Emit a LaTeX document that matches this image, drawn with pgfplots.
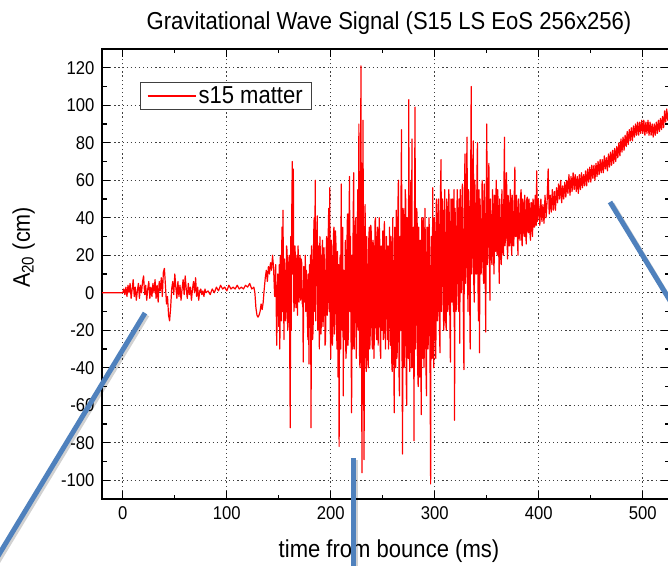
\documentclass[border=0pt]{standalone}
\usepackage{fontspec}
\setmainfont{Liberation Sans}[FakeStretch=0.9]
\usepackage{pgfplots}
\pgfplotsset{compat=1.18}
\definecolor{callout}{RGB}{79,129,189}
\begin{document}
\begin{tikzpicture}
\useasboundingbox (0,0) rectangle (668pt,565pt);
\clip (0,0) rectangle (668pt,565pt);
\begin{axis}[
  at={(102pt,66pt)}, anchor=south west,
  width=567pt, height=450pt, scale only axis,
  xmin=-20, xmax=525.2, ymin=-110, ymax=130,
  xtick={0,100,...,500}, ytick={-100,-80,...,120},
  minor x tick num=1, minor y tick num=1,
  tick pos=both, tick align=inside,
  major tick length=8pt, minor tick length=4.5pt,
  every tick/.style={black, line width=1.1pt},
  axis line style={black, line width=1.8pt},
  grid=major,
  major grid style={black!75, line width=0.9pt, dash pattern=on 1.2pt off 2.9pt},
  /pgf/number format/assume math mode=true,
  ticklabel style={font=\fontsize{18.5}{20}\selectfont},
  xticklabel style={yshift=-4pt},
  yticklabel style={xshift=-4pt},
  title={Gravitational Wave Signal (S15 LS EoS 256x256)},
  title style={font=\fontsize{24.5}{26}\selectfont, at={(rel axis cs:0.5,1)}, anchor=base, yshift=13pt, xshift=3.5pt},
  xlabel={time from bounce (ms)},
  xlabel style={font=\fontsize{24.5}{26}\selectfont, at={(rel axis cs:0.5,0)}, anchor=base, yshift=-58pt, xshift=3.5pt},
  ylabel={A\textsubscript{20} (cm)},
  ylabel style={font=\fontsize{24}{26}\selectfont, at={(rel axis cs:0,0.559)}, anchor=base, yshift=72pt},
  legend style={font=\fontsize{24.5}{26}\selectfont, draw=black!75, line width=0.9pt,
    at={(rel axis cs:0.067,0.927)}, anchor=north west, inner xsep=6.5pt, inner ysep=2.5pt,
    /tikz/every even column/.append style={column sep=4pt}},
  legend cell align=left,
  legend image code/.code={\draw[#1, line width=1.6pt] (0pt,0pt) -- (48pt,0pt);},
]
\addplot[red, line width=1.2pt, line join=round] coordinates {
(-20,0) (0,0) (1,2) (2,-1) (3,3) (4,-2) (5,4) (6,0) (7,5) (8,-3) (9,2) (10,7) (11,-2) (12,3) (13,-4) (14,1) (15,5) (16,-3) (17,4) (18,0) (19,6) (20,9)
(21,-1) (22,4) (23,-4) (24,2) (25,6) (26,-3) (27,3) (28,-2) (29,5) (30,0) (31,7) (32,-3) (33,4) (34,-5) (35,6) (36,1) (37,8) (38,-2) (39,11) (40,13)
(41,4) (42,-6) (43,-2) (44,-12) (45,-15) (46,-8) (47,2) (48,6) (49,-1) (50,10) (51,3) (52,-3) (53,6) (54,-2) (55,4) (56,-4) (57,2) (58,7) (59,-1) (60,9)
(61,2) (62,-3) (63,5) (64,-1) (65,3) (66,-4) (67,2) (68,6) (69,0) (70,8) (71,-2) (72,3) (73,-4) (74,1) (75,2) (76,-1) (77,1) (78,-2) (79,2) (80,0)
(82,1) (84,-1) (86,2) (88,0) (90,3) (92,1) (94,4) (96,2) (98,3) (100,1) (102,4) (104,2) (106,3) (108,2) (110,4) (112,2) (114,3) (116,2) (118,4) (120,3)
(122,5) (124,2) (126,3) (127,0) (128,-8) (129,-12) (130,-13) (131,-12) (132,-10) (133,-6) (134,-9) (135,-5) (136,2) (137,8) (138,12) (139,6) (140,14)
(141,10) (142,16) (143,12) (144,20) (145,13) (146,-2) (147,15) (148,-28) (149,10)
(150,-18) (150.5,15) (151,-30) (151.5,20) (152,5) (152.5,-15) (153,35) (153.5,-10) (154,44) (154.5,5) (155,-25) (155.5,18) (156,10) (156.5,-15)
(157,-8) (157.5,25) (158,22) (158.5,-20) (159,-12) (159.5,15) (160,20) (160.5,-30) (161,-72) (161.5,30) (162,-20) (162.5,45) (163,70) (163.5,10)
(164,66) (164.5,-10) (165,-6) (165.5,25) (166,18) (166.5,-8) (167,5) (167.5,20) (168,-12) (168.5,25) (169,16) (169.5,-5) (170,11) (170.5,20)
(171,-4) (171.5,18) (172,16) (172.5,-6) (173,2) (173.5,-37) (174,14) (174.5,-5) (175,5) (175.5,20) (176,-10) (176.5,12) (177,8) (177.5,-15)
(178,-25) (178.5,10) (179,-38) (179.5,15) (180,-10) (180.5,20) (181,-72) (181.5,25) (182,14) (182.5,-25) (183,-20) (183.5,30) (184,40) (184.5,-10)
(185,60) (185.5,-15) (186,10) (186.5,32) (187,41) (187.5,-20) (188,-3) (188.5,25) (189,-30) (189.5,30) (190,20) (190.5,-22) (191,-15) (191.5,18)
(192,28) (192.5,-18) (193,-10) (193.5,24) (194,7) (194.5,-28) (195,-25) (195.5,20) (196,30) (196.5,-12) (197,-5) (197.5,30) (198,45) (198.5,-10)
(199,56) (199.5,-20) (200,-35) (200.5,28) (201,15) (201.5,-28) (202,-20) (202.5,30) (203,35) (203.5,-22) (204,-10) (204.5,33) (205,25) (205.5,-18)
(206,-30) (206.5,22) (207,-45) (207.5,15) (208,-82) (208.5,10) (209,20) (209.5,-30) (210,58) (210.5,-5) (211,-20) (211.5,35) (212,-55) (212.5,12)
(213,10) (213.5,-25) (214,28) (214.5,-35) (215,-30) (215.5,25) (216,42) (216.5,-28) (217,-20) (217.5,38) (218,62) (218.5,-10) (219,30) (219.5,-25)
(220,-64) (220.5,20) (221,-30) (221.5,40) (222,64) (222.5,-30) (223,-14) (223.5,35) (224,40) (224.5,-35) (225,-14) (225.5,30) (226,55) (226.5,-20)
(227,90) (227.5,-30) (228,-40) (228.5,40) (229,121) (229.5,-20) (230,-96) (230.5,30) (231,92) (231.5,-30) (232,-89) (232.5,25) (233,47) (233.5,-30)
(234,-42) (234.5,30) (235,14) (235.5,-35) (236,-40) (236.5,28) (237,35) (237.5,-30) (238,-20) (238.5,36) (239,31) (239.5,-22) (240,-30) (240.5,28)
(241,25) (241.5,-35) (242,-16) (242.5,38) (243,40) (243.5,-18) (244,-25) (244.5,30) (245,35) (245.5,-28) (246,-10) (246.5,40) (247,28) (247.5,-30)
(248,-35) (248.5,25) (249,20) (249.5,-20) (250,33) (250.5,-25) (251,-20) (251.5,38) (252,24) (252.5,-30) (253,-10) (253.5,30) (254,18) (254.5,-25)
(255,25) (255.5,-30) (256,-15) (256.5,35) (257,11) (257.5,-28) (258,30) (258.5,-35) (259,-42) (259.5,40) (260,15) (260.5,-30) (261,-64) (261.5,35)
(262,20) (262.5,-40) (263,44) (263.5,-35) (264,-30) (264.5,45) (265,60) (265.5,-40) (266,-55) (266.5,30) (267,-20) (267.5,50) (268,87) (268.5,-30)
(269,-86) (269.5,45) (270,40) (270.5,-40) (271,-30) (271.5,55) (272,50) (272.5,-45) (273,-60) (273.5,40) (274,30) (274.5,-35) (275,103) (275.5,-30)
(276,-42) (276.5,45) (277,60) (277.5,-40) (278,82) (278.5,-25) (279,-40) (279.5,35) (280,-79) (280.5,40) (281,99) (281.5,-30) (282,-11) (282.5,45)
(283,42) (283.5,-40) (284,-50) (284.5,35) (285,11) (285.5,-45) (286,28) (286.5,-30) (287,-65) (287.5,40) (288,7) (288.5,-35) (289,40) (289.5,-40)
(290,-30) (290.5,45) (291,20) (291.5,-40) (292,-55) (292.5,35) (293,35) (293.5,-30) (294,-20) (294.5,40) (295,15) (295.5,-45) (296,-102) (296.5,30)
(297,25) (297.5,-35) (298,56) (298.5,-20) (299,-40) (299.5,40) (300,30) (300.5,-25) (301,-35) (301.5,50) (302,45) (302.5,-15) (303,-10) (303.5,50)
(304,35) (304.5,-20) (305,-32) (305.5,55) (306,71) (306.5,-10) (307,10) (307.5,50) (308,40) (308.5,-20) (309,-15) (309.5,55) (310,30) (310.5,-15)
(311,-20) (311.5,50) (312,45) (312.5,-10) (313,-5) (313.5,55) (314,35) (314.5,-15) (315,-37) (315.5,50) (316,25) (316.5,-5) (317,50) (317.5,0)
(318,-10) (318.5,55) (319,-68) (319.5,45) (320,30) (320.5,-10) (321,5) (321.5,55) (322,45) (322.5,-5) (323,-10) (323.5,50) (324,-27) (324.5,55)
(325,42) (325.5,0) (326,10) (326.5,58) (327,35) (327.5,-15) (328,-41) (328.5,50) (329,74) (329.5,5) (330,15) (330.5,60) (331,83) (331.5,5)
(332,-10) (332.5,55) (333,45) (333.5,0) (334,-30) (334.5,60) (335,110) (335.5,10) (336,20) (336.5,60) (337,81) (337.5,5) (338,-5) (338.5,60)
(339,40) (339.5,10) (340,10) (340.5,62) (341,80) (341.5,5) (342,-15) (342.5,55) (343,-32) (343.5,50) (344,35) (344.5,10) (345,15) (345.5,60)
(346,50) (346.5,12) (347,5) (347.5,58) (348,40) (348.5,8) (349,-21) (349.5,55) (350,90) (350.5,15) (351,20) (351.5,55) (352,69) (352.5,25)
(353,-4) (353.5,50) (354,35) (354.5,18) (355,15) (355.5,55) (356,45) (356.5,20) (357,10) (357.5,52) (358,40) (358.5,22) (359,60) (359.5,25)
(360,20) (360.5,55) (361,45) (361.5,22) (362,5) (362.5,50) (363,35) (363.5,20) (364,15) (364.5,55) (365,40) (365.5,22) (366,20) (366.5,58)
(367,83) (367.5,25) (368,30) (368.5,55) (369,64) (369.5,28) (370,18) (370.5,52) (371,45) (371.5,25) (372,25) (372.5,55) (373,50) (373.5,28)
(374,20) (374.5,52) (375,40) (375.5,25) (376,25) (376.5,55) (377,67) (377.5,30) (378,30) (378.5,52) (379,45) (379.5,28) (380,20) (380.5,50)
(381,40) (381.5,30) (382,28) (382.5,52) (383,55) (383.5,30) (384,25) (384.5,50) (385,48) (385.5,32) (386,30) (386.5,52) (387,42) (387.5,30)
(388,26) (388.5,50) (389,51) (389.5,33) (390,32) (390.5,50) (391,45) (391.5,32) (392,28) (392.5,48) (393,48) (393.5,33) (394,30) (394.5,50)
(395,45) (395.5,35) (396,35) (396.5,52) (397,50) (397.5,36) (398,65) (398.5,38) (399,40) (399.5,50) (400,46)
(401,36) (402,50) (403,38) (404,47) (405,37) (406,52) (407,40) (408,49) (409,66) (410,42) (411,52) (412,43) (413,55) (414,44) (415,54) (416,44)
(417,56) (418,48) (419,58) (420,50) (421,60) (422,48) (423,57) (424,50) (425,59) (426,51) (427,60) (428,53) (429,63) (430,52) (431,62) (432,54)
(433,64) (434,55) (435,63) (436,54) (437,62) (438,53) (439,63) (440,55) (441,64) (442,56) (443,63) (444,57) (445,65) (446,57) (447,66) (448,59)
(449,67) (450,59) (451,68) (452,61) (453,68) (454,60) (455,69) (456,62) (457,70) (458,63) (459,71) (460,64) (461,71) (462,64) (463,73) (464,66)
(465,72) (466,65) (467,74) (468,67) (469,75) (470,68) (471,76) (472,69) (473,77) (474,70) (475,78) (476,72) (477,80) (478,73) (479,82) (480,75)
(481,83) (482,76) (483,84) (484,78) (485,86) (486,79) (487,87) (488,81) (489,88) (490,81) (491,89) (492,83) (493,90) (494,84) (495,91) (496,84)
(497,91) (498,85) (499,92) (500,85) (501,92) (502,84) (503,91) (504,85) (505,92) (506,84) (507,91) (508,84) (509,90) (510,83) (511,90) (512,84)
(513,91) (514,85) (515,92) (516,86) (517,93) (518,87) (519,94) (520,88) (521,97) (522,91) (523,98) (524,92) (525,97) (526,95)
};
\addlegendentry{s15 matter}
\end{axis}
\begin{scope}[line width=5pt, line cap=butt]
\draw[black, opacity=0.18] (147pt,250pt) -- (-6pt,-3pt);
\draw[black, opacity=0.18] (355.5pt,105pt) -- (355.5pt,-6pt);
\draw[black, opacity=0.18] (612pt,361pt) -- (682pt,245pt);
\draw[callout] (145pt,252pt) -- (-8pt,-1pt);
\draw[callout] (353.5pt,107pt) -- (353.5pt,-5pt);
\draw[callout] (610pt,363pt) -- (680pt,248pt);
\end{scope}
\end{tikzpicture}
\end{document}
